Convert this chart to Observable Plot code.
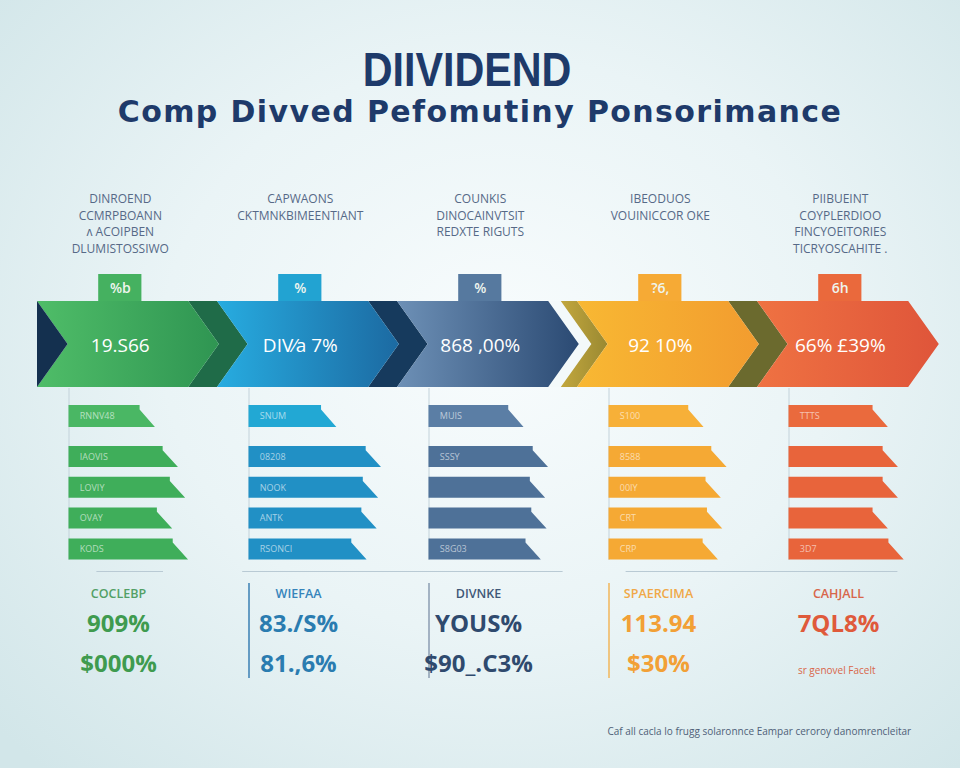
<!DOCTYPE html>
<html lang="en"><head><meta charset="utf-8">
<script src="https://cdn.jsdelivr.net/npm/d3@7"></script>
<script src="https://cdn.jsdelivr.net/npm/@observablehq/plot@0.6"></script>
<style>
html,body{margin:0;padding:0}
body{width:960px;height:768px;overflow:hidden;background:radial-gradient(ellipse 70% 75% at 52% 45%,#f8fcfd 0%,#eaf4f6 50%,#d2e6e9 100%);}
#head{position:relative;height:150px;width:960px}
#title{position:absolute;left:-13px;width:960px;top:46px;margin:0;text-align:center;font:700 48px/48px "Liberation Sans",sans-serif;color:#1e3a6a;transform:scaleX(0.86);transform-origin:480px 0}
#subtitle{position:absolute;left:0;width:960px;top:97px;margin:0;text-align:center;font:700 30px/30px "DejaVu Sans",sans-serif;letter-spacing:1.4px;color:#1e3a6a}
#chart svg{display:block}
</style></head><body>
<div id="head"><h1 id="title"></h1><h2 id="subtitle"></h2></div>
<div id="chart"></div>
<script>
// ---------- data ----------
const titleText = "DIIVIDEND";
const subtitleText = "Comp Divved Pefomutiny Ponsorimance";
const headerLines = [
  ["DINROEND", "CCMRPBOANN", "ʌ ACOIPBEN", "DLUMISTOSSIWO"],
  ["CAPWAONS", "CKTMNKBIMEENTIANT"],
  ["COUNKIS", "DINOCAINVTSIT", "REDXTE RIGUTS"],
  ["IBEODUOS", "VOUINICCOR OKE"],
  ["PIIBUEINT", "COYPLERDIOO", "FINCYOEITORIES", "TICRYOSCAHITE ."]
];
const tabLabels = ["%b", "%", "%", "?6,", "6h"];
const arrowValues = ["19.S66", "DIV⁄a 7%", "868 ,00%", "92 10%", "66% £39%"];
const barsGreen  = [60, 76, 81, 72, 83];
const barsBlue   = [61, 92, 90, 89, 82];
const barsSlate  = [66, 83, 81, 82, 78];
const barsOrange = [66, 82, 78, 79, 76];
const barsRed    = [69, 76, 76, 69, 80];
const barLabels = [
  ["RNNV48", "IAOVIS", "LOVIY", "OVAY", "KODS"],
  ["SNUM", "08208", "NOOK", "ANTK", "RSONCI"],
  ["MUIS", "SSSY", "", "", "S8G03"],
  ["S100", "8588", "00IY", "CRT", "CRP"],
  ["TTTS", "", "", "", "3D7"]
];
const statLabels  = ["COCLEBP", "WIEFAA", "DIVNKE", "SPAERCIMA", "CAHJALL"];
const statValues1 = ["909%", "83./S%", "YOUS%", "113.94", "7QL8%"];
const statValues2 = ["$000%", "81.,6%", "$90_.C3%", "$30%", "sr genovel Facelt"];
const footnote = "Caf all cacla lo frugg solaronnce Eampar ceroroy danomrencleitar";

// ---------- styles ----------
const barMain  = ["#3fae5a", "#2190c5", "#4e7198", "#f5a934", "#e8643b"];
const barFirst = ["#4ab764", "#22a8d4", "#5b7ea5", "#f7b038", "#ea6a3d"];
const tabFill  = ["#45b160", "#22a3d2", "#56799f", "#f6aa35", "#ea693c"];
const valCol   = ["#3f9b4f", "#2a7cb0", "#2f4a6e", "#f2a036", "#df5a3b"];
const labCol   = ["#52a066", "#3584bb", "#3f5878", "#f0a847", "#d8664b"];

document.getElementById("title").textContent = titleText;
document.getElementById("subtitle").textContent = subtitleText;

const S = d3.range(5);
const TOP = 301, MID = 344, BOT = 387, D = 0.17, W = 0.84;
const chev = (a, b) => [{y: TOP, x1: a, x2: b}, {y: MID, x1: a + D, x2: b + D}, {y: BOT, x1: a, x2: b}];

const marks = [];
// arrow shadows
const shadows = [[W, 1, "#1f6b48"], [1 + W, 2, "#163a5d"], [2 + W, 2.91, "#f3f9fa"], [2.91, 3, "url(#gOlive)"], [3 + W, 4, "#6b6a2e"]];
shadows.forEach(([a, b, f]) => marks.push(Plot.areaX(chev(a, b), {y: "y", x1: "x1", x2: "x2", fill: f})));
S.forEach(s => marks.push(Plot.areaX(chev(s, s + W), {y: "y", x1: "x1", x2: "x2", fill: `url(#g${s})`})));
marks.push(Plot.areaX([{y: TOP, x1: 0, x2: 0}, {y: MID, x1: 0, x2: D}, {y: BOT, x1: 0, x2: 0}], {y: "y", x1: "x1", x2: "x2", fill: "#14304f"}));

// tabs
marks.push(Plot.rect(S, {x1: s => s + 0.34, x2: s => s + 0.58, y1: () => 274, y2: () => 301, fill: s => tabFill[s]}));
marks.push(Plot.text(S, {x: s => s + 0.46, y: () => 288, text: s => tabLabels[s], fill: "#eef5ee", fontSize: 14, fontWeight: 600}));
// arrow values
marks.push(Plot.text(S, {x: s => s + 0.46, y: () => 345, text: s => arrowValues[s], fill: "#ffffff", fontSize: 19, fontWeight: 500}));

// headers
const hdr = headerLines.flatMap((lines, s) => lines.map((t, j) => ({s, j, t})));
marks.push(Plot.text(hdr, {x: d => d.s + 0.46, y: d => 199 + d.j * 16.5, text: "t", fill: "#566987", fontSize: 12, fontWeight: 500}));

// guides
marks.push(Plot.ruleX(S, {x: s => s + 0.175, y1: () => 388, y2: () => 560, stroke: "#c3d2da", strokeWidth: 1}));

// bars
const barValues = [barsGreen, barsBlue, barsSlate, barsOrange, barsRed];
const rowTop = r => r === 0 ? 405 : 446 + (r - 1) * 30.8;
const rowH = r => r === 0 ? 22 : 21;
const bars = barValues.flatMap((vals, s) => vals.map((v, r) => ({s, r, v, label: barLabels[s][r]})));
const C = 0.085;
const barPts = bars.flatMap((b, i) => {
  const x0 = b.s + 0.175, L = b.v / 100 * 0.8, t = rowTop(b.r), h = rowH(b.r);
  const fill = b.r === 0 ? barFirst[b.s] : barMain[b.s];
  return [
    {z: i, fill, y: t, x1: x0, x2: x0 + L - C},
    {z: i, fill, y: t + h * 0.2, x1: x0, x2: x0 + L - C},
    {z: i, fill, y: t + h, x1: x0, x2: x0 + L}
  ];
});
marks.push(Plot.areaX(barPts, {y: "y", x1: "x1", x2: "x2", z: "z", fill: "fill"}));
marks.push(Plot.text(bars, {x: d => d.s + 0.175 + 0.06, y: d => rowTop(d.r) + rowH(d.r) / 2, text: "label", textAnchor: "start", fill: "rgba(255,255,255,0.6)", fontSize: 9}));

// bottom lines
const segs = [[0.33, 0.70], [1.14, 2.92], [3.27, 4.78]];
marks.push(Plot.ruleY(segs, {y: () => 571, x1: d => d[0], x2: d => d[1], stroke: "#b9cad4"}));
marks.push(Plot.ruleX([1, 2, 3], {x: s => s + 0.175, y1: () => 583, y2: () => 678, stroke: s => ["", "#3a7fb3", "#8b9db2", "#f2b65a"][s], strokeWidth: 1.5}));

// stats
marks.push(Plot.text(S, {x: s => s + 0.45, y: () => 593, text: s => statLabels[s], fill: s => labCol[s], fontSize: 12.5, fontWeight: 600}));
marks.push(Plot.text(S, {x: s => s + 0.45, y: () => 624, text: s => statValues1[s], fill: s => valCol[s], fontSize: 24, fontWeight: 700}));
marks.push(Plot.text(S.slice(0, 4), {x: s => s + 0.45, y: () => 664, text: s => statValues2[s], fill: s => valCol[s], fontSize: 24, fontWeight: 700}));
marks.push(Plot.text([4], {x: s => s + 0.44, y: () => 670, text: s => statValues2[s], fill: "#d9664a", fontSize: 10}));

// footnote
marks.push(Plot.text([footnote], {x: () => 4.01, y: () => 731, text: d => d, fill: "#4f5f78", fontSize: 10}));

const H = 618;
const svg = Plot.plot({
  width: 960, height: H,
  marginLeft: 37, marginRight: 23, marginTop: 0, marginBottom: 0,
  x: {domain: [0, 5], axis: null},
  y: {domain: [150, 768], range: [0, H], axis: null},
  color: {type: "identity"},
  style: {background: "transparent", fontFamily: "'Open Sans', sans-serif"},
  marks
});
const defs = d3.select(svg).insert("defs", ":first-child");
const grads = {
  g0: ["#4fbd68", "#2f9552"], g1: ["#27ace0", "#1c6aa2"], g2: ["#6d90b6", "#2b4a73"],
  g3: ["#f8b833", "#f29c2f"], g4: ["#ef7242", "#df553a"], gOlive: ["#c2a73d", "#9a8932"]
};
for (const [id, [c1, c2]] of Object.entries(grads)) {
  const g = defs.append("linearGradient").attr("id", id).attr("x1", "0").attr("x2", "1").attr("y1", "0").attr("y2", "0");
  g.append("stop").attr("offset", "0").attr("stop-color", c1);
  g.append("stop").attr("offset", "1").attr("stop-color", c2);
}
document.getElementById("chart").appendChild(svg);
</script>
</body></html>
